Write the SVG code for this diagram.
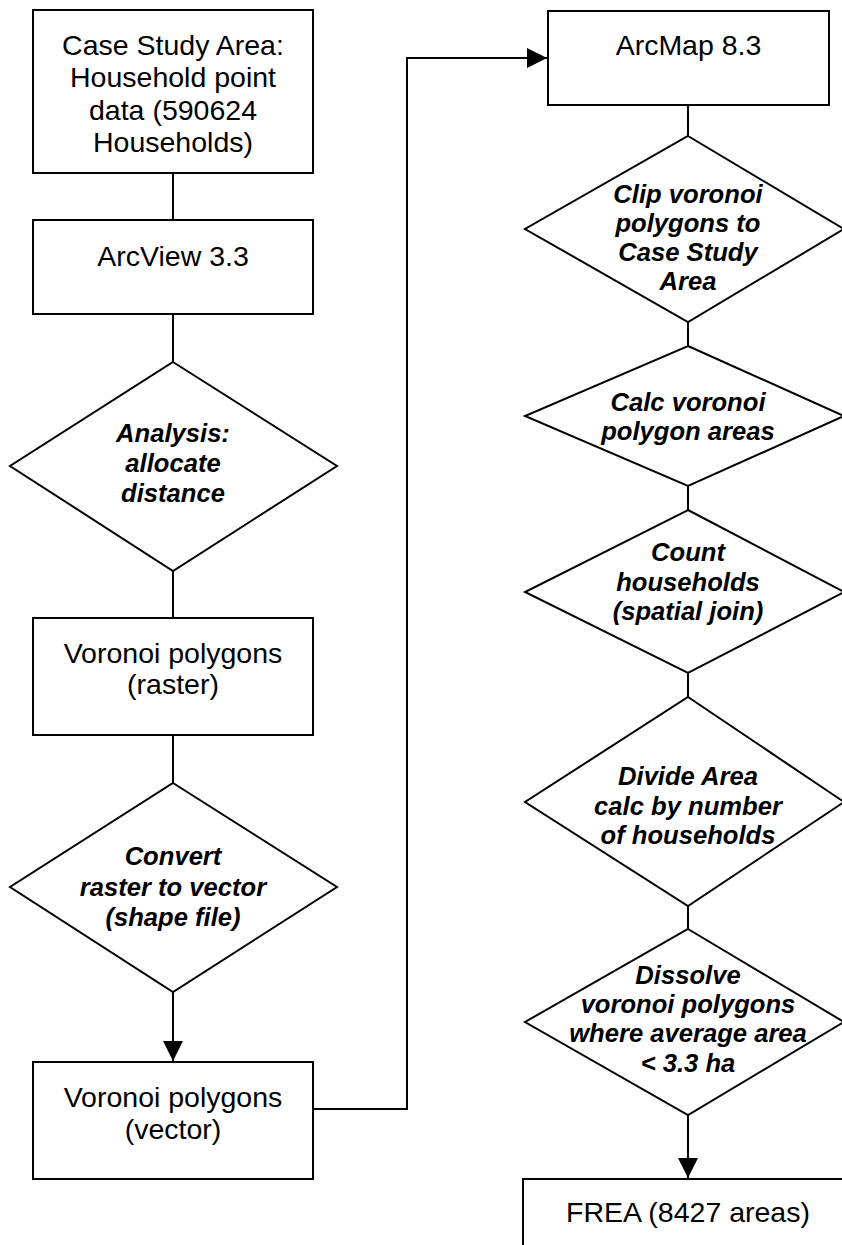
<svg xmlns="http://www.w3.org/2000/svg" width="842" height="1245" viewBox="0 0 842 1245">
<defs>
<style>
.shape{fill:#fff;stroke:#000;stroke-width:2}
.conn{fill:none;stroke:#000;stroke-width:2}
.t{font-family:"Liberation Sans",Arial,sans-serif;font-size:28.5px;fill:#000;text-anchor:middle}
.d{font-family:"Liberation Sans",Arial,sans-serif;font-size:25.6px;font-weight:bold;font-style:italic;fill:#000;text-anchor:middle}
</style>
<marker id="arr" markerUnits="userSpaceOnUse" markerWidth="21" markerHeight="20" refX="20" refY="10" orient="auto" viewBox="0 0 21 20">
<path d="M0,0 L20,10 L0,20 Z" fill="#000"/>
</marker>
</defs>
<rect width="842" height="1245" fill="#fff"/>
<g id="connectors">
<line class="conn" x1="173" y1="173" x2="173" y2="220"/>
<line class="conn" x1="173" y1="314" x2="173" y2="362"/>
<line class="conn" x1="173" y1="571" x2="173" y2="618"/>
<line class="conn" x1="173" y1="735" x2="173" y2="783"/>
<line class="conn" x1="173" y1="992" x2="173" y2="1061" marker-end="url(#arr)"/>
<polyline class="conn" points="313,1109 407,1109 407,58 547,58" marker-end="url(#arr)"/>
<line class="conn" x1="688" y1="105" x2="688" y2="136"/>
<line class="conn" x1="688" y1="322" x2="688" y2="346"/>
<line class="conn" x1="688" y1="486" x2="688" y2="510"/>
<line class="conn" x1="688" y1="673" x2="688" y2="697"/>
<line class="conn" x1="688" y1="906" x2="688" y2="929"/>
<line class="conn" x1="688" y1="1115" x2="688" y2="1178" marker-end="url(#arr)"/>
</g>
<g id="case-study-area">
<rect class="shape" x="33" y="10" width="280" height="163"/>
<text class="t" x="173" y="55">Case Study Area:</text>
<text class="t" x="173" y="87">Household point</text>
<text class="t" x="173" y="120">data (590624</text>
<text class="t" x="173" y="152">Households)</text>
</g>
<g id="arcview">
<rect class="shape" x="33" y="220" width="280" height="94"/>
<text class="t" x="173" y="266">ArcView 3.3</text>
</g>
<g id="analysis">
<polygon class="shape" points="173,362 337,466 173,571 10,466"/>
<text class="d" x="173" y="442">Analysis:</text>
<text class="d" x="173" y="472">allocate</text>
<text class="d" x="173" y="502">distance</text>
</g>
<g id="voronoi-raster">
<rect class="shape" x="33" y="618" width="280" height="117"/>
<text class="t" x="173" y="663">Voronoi polygons</text>
<text class="t" x="173" y="694">(raster)</text>
</g>
<g id="convert">
<polygon class="shape" points="173,783 337,887 173,992 10,887"/>
<text class="d" x="173" y="865">Convert</text>
<text class="d" x="173" y="896">raster to vector</text>
<text class="d" x="173" y="926">(shape file)</text>
</g>
<g id="voronoi-vector">
<rect class="shape" x="33" y="1062" width="280" height="117"/>
<text class="t" x="173" y="1107">Voronoi polygons</text>
<text class="t" x="173" y="1139">(vector)</text>
</g>
<g id="arcmap">
<rect class="shape" x="548" y="11" width="281" height="94"/>
<text class="t" x="688.5" y="55">ArcMap 8.3</text>
</g>
<g id="clip">
<polygon class="shape" points="688,136 844,229 688,322 525,229"/>
<text class="d" x="688" y="203">Clip voronoi</text>
<text class="d" x="688" y="232">polygons to</text>
<text class="d" x="688" y="261">Case Study</text>
<text class="d" x="688" y="290">Area</text>
</g>
<g id="calc-areas">
<polygon class="shape" points="688,346 844,416 688,486 525,416"/>
<text class="d" x="688" y="411">Calc voronoi</text>
<text class="d" x="688" y="440">polygon areas</text>
</g>
<g id="count">
<polygon class="shape" points="688,510 844,592 688,673 525,592"/>
<text class="d" x="688" y="561">Count</text>
<text class="d" x="688" y="591">households</text>
<text class="d" x="688" y="620">(spatial join)</text>
</g>
<g id="divide">
<polygon class="shape" points="688,697 844,802 688,906 525,802"/>
<text class="d" x="688" y="785">Divide Area</text>
<text class="d" x="688" y="815">calc by number</text>
<text class="d" x="688" y="844">of households</text>
</g>
<g id="dissolve">
<polygon class="shape" points="688,929 844,1022 688,1115 525,1022"/>
<text class="d" x="688" y="984">Dissolve</text>
<text class="d" x="688" y="1013">voronoi polygons</text>
<text class="d" x="688" y="1042">where average area</text>
<text class="d" x="688" y="1072">&lt; 3.3 ha</text>
</g>
<g id="frea">
<rect class="shape" x="523" y="1179" width="330" height="80"/>
<text class="t" x="688" y="1222">FREA (8427 areas)</text>
</g>
</svg>
